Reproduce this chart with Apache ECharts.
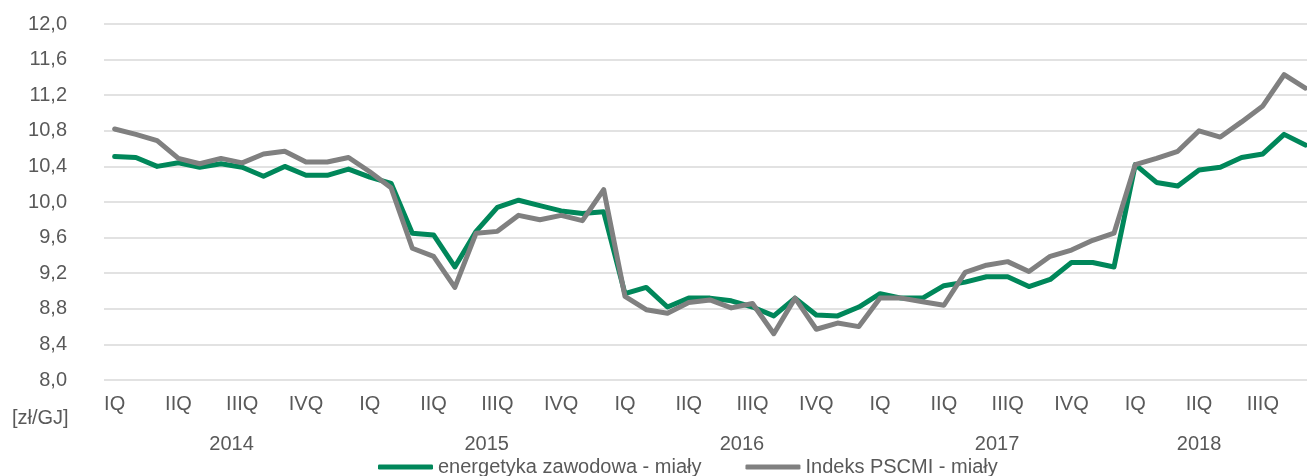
<!DOCTYPE html>
<html>
<head>
<meta charset="utf-8">
<script src="https://cdn.jsdelivr.net/npm/echarts@6/dist/echarts.min.js"></script>
<style>
  html, body { margin: 0; padding: 0; background: #fff; }
  #chart { width: 1307px; height: 476px; }
</style>
</head>
<body>
<div id="chart"></div>
<script>
// dane miesięczne: styczeń 2014 - wrzesień 2018
const years = ['2014', '2015', '2016', '2017', '2018'];
const quarterLabels = ['IQ', 'IIQ', 'IIIQ', 'IVQ'];
const yearLabelPos = [5.5, 17.5, 29.5, 41.5, 51];
const seriesNames = ['energetyka zawodowa - miały', 'Indeks PSCMI - miały'];

const energetyka = [
  10.51, 10.50, 10.40, 10.44, 10.39, 10.43, 10.39, 10.29, 10.40, 10.30, 10.30, 10.37,
  10.28, 10.21, 9.65, 9.63, 9.27, 9.67, 9.94, 10.02, 9.96, 9.90, 9.87, 9.89,
  8.97, 9.04, 8.82, 8.92, 8.92, 8.89, 8.82, 8.72, 8.92, 8.73, 8.72, 8.82,
  8.97, 8.92, 8.92, 9.06, 9.10, 9.16, 9.16, 9.05, 9.13, 9.32, 9.32, 9.27,
  10.42, 10.22, 10.18, 10.36, 10.39, 10.50, 10.54, 10.76, 10.64
];
const pscmi = [
  10.82, 10.76, 10.69, 10.49, 10.43, 10.49, 10.44, 10.54, 10.57, 10.45, 10.45, 10.50,
  10.34, 10.16, 9.48, 9.39, 9.04, 9.65, 9.67, 9.85, 9.80, 9.85, 9.79, 10.14,
  8.94, 8.79, 8.75, 8.87, 8.90, 8.81, 8.86, 8.52, 8.92, 8.57, 8.64, 8.60,
  8.92, 8.92, 8.88, 8.84, 9.21, 9.29, 9.33, 9.22, 9.39, 9.46, 9.57, 9.65,
  10.42, 10.49, 10.57, 10.80, 10.73, 10.90, 11.08, 11.43, 11.28
];

// kategorie miesięczne
var months = [];
years.forEach(function (y) {
  for (var m = 1; m <= 12; m++) {
    if (months.length < energetyka.length) months.push(y + '-' + (m < 10 ? '0' + m : m));
  }
});

var font = '"Liberation Sans", Arial, sans-serif';
var txt = '#595959';

var myChart = echarts.init(document.getElementById('chart'));
var option = {
  animation: false,
  textStyle: { fontFamily: font },
  title: {
    text: '[zł/GJ]',
    left: 12,
    top: 408,
    padding: 0,
    textStyle: { fontSize: 20, fontWeight: 'normal', color: txt, fontFamily: font }
  },
  legend: {
    left: 378,
    top: 457,
    padding: 0,
    icon: 'roundRect',
    itemWidth: 55,
    itemHeight: 5,
    itemGap: 44,
    textStyle: { fontSize: 20, color: txt, fontFamily: font },
    data: seriesNames
  },
  // wykres ucięty z prawej strony, jak w oryginale
  grid: { left: 104, width: 1212, top: 24, bottom: 96, containLabel: false, outerBoundsMode: 'none' },
  xAxis: [
    {
      type: 'category',
      data: months,
      boundaryGap: true,
      axisLine: { show: false },
      axisTick: { show: false },
      axisLabel: {
        interval: 2,
        margin: 14,
        fontSize: 20,
        color: txt,
        fontFamily: font,
        formatter: function (val, idx) {
          return quarterLabels[Math.floor((idx % 12) / 3)];
        }
      }
    },
    {
      type: 'value',
      position: 'bottom',
      min: -0.5,
      max: 56.5,
      axisLine: { show: false },
      axisTick: { show: false },
      splitLine: { show: false },
      axisLabel: {
        customValues: yearLabelPos,
        margin: 54,
        fontSize: 20,
        color: txt,
        fontFamily: font,
        formatter: function (val) {
          var i = yearLabelPos.indexOf(val);
          return i >= 0 ? years[i] : '';
        }
      }
    }
  ],
  yAxis: {
    type: 'value',
    min: 8,
    max: 12,
    interval: 0.4,
    axisLine: { show: false },
    axisTick: { show: false },
    splitLine: { lineStyle: { color: '#d9d9d9', width: 1.5 } },
    axisLabel: {
      margin: 37,
      fontSize: 20,
      color: txt,
      fontFamily: font,
      formatter: function (v) { return v.toFixed(1).replace('.', ','); }
    }
  },
  series: [
    {
      name: seriesNames[0],
      type: 'line',
      data: energetyka,
      symbol: 'none',
      color: '#00875a',
      lineStyle: { width: 5, color: '#00875a', cap: 'round', join: 'round' }
    },
    {
      name: seriesNames[1],
      type: 'line',
      data: pscmi,
      symbol: 'none',
      color: '#808080',
      lineStyle: { width: 5, color: '#808080', cap: 'round', join: 'round' }
    }
  ]
};
option && myChart.setOption(option);
</script>
</body>
</html>
